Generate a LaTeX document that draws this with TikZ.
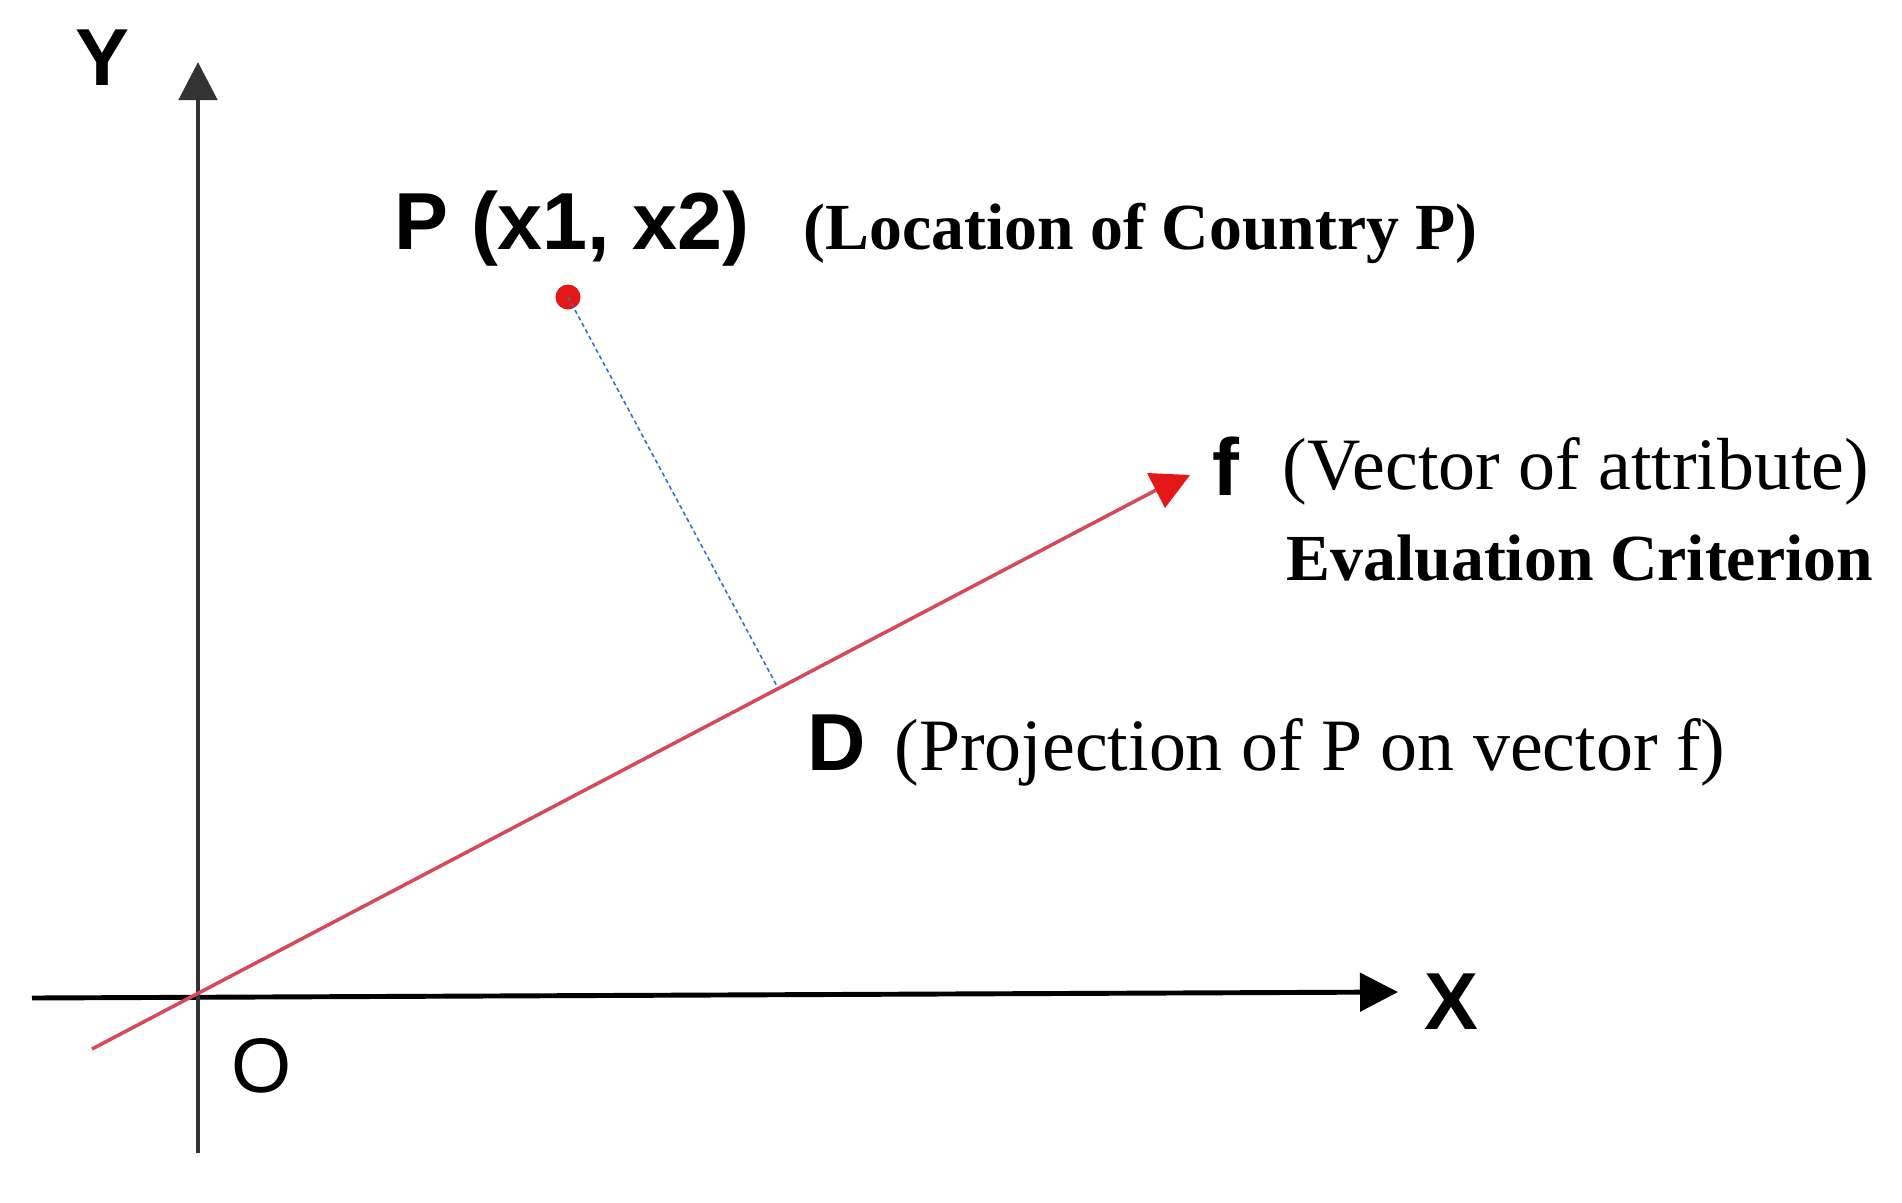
\documentclass[tikz,border=0pt]{standalone}
\usepackage{fontspec}
\usepackage{tikz}
\usetikzlibrary{arrows.meta}
\newfontfamily\arialfont{Liberation Sans}
\newfontfamily\timesfont{Liberation Serif}
\definecolor{fred}{RGB}{214,72,92}
\definecolor{tipred}{RGB}{228,24,24}
\definecolor{projblue}{RGB}{45,110,215}

\begin{document}
\begin{tikzpicture}[x=0.01cm,y=-0.01cm,
		axis/.style={line width=1.4pt,-{Triangle[length=0.38cm,width=0.38cm]}},
		biglab/.style={font={\arialfont\bfseries\fontsize{23}{27}\selectfont}},
		note/.style={font={\timesfont\fontsize{21}{25}\selectfont},anchor=base west,inner sep=0pt},
		boldnote/.style={font={\timesfont\bfseries\fontsize{18.7}{22}\selectfont},anchor=base west,inner sep=0pt}]
			\useasboundingbox (0,0) rectangle (1902,1202);
			%\draw [help lines] (0,0) grid (1902,1202);
			\coordinate (O) at (198,997);
			\coordinate (xs) at (32,998);
			\coordinate (xe) at (1398,992);
			\coordinate (ys) at (198,1153);
			\coordinate (ye) at (198,62);
			\draw[axis] (xs) -- (xe);
			\draw[axis,black!80] (ys) -- (ye);
			\node[biglab] (ylab) at (102,58) {Y};
			\node[biglab] (xlab) at (1451,1002) {X};
			\node[font={\arialfont\fontsize{22}{26}\selectfont}] (olab) at (262,1066) {O};
			% vector f
			\coordinate (fs) at (92,1049);
			\coordinate (fe) at (1160,488);
			\coordinate (D) at (778,688);
			\draw[fred,line width=1pt] (fs) -- (fe);
			\fill[tipred] (1147,473) -- (1190,475) -- (1165,508) -- cycle;
			\node[biglab,anchor=base west,inner sep=0pt] (flab) at (1212,495) {f};
			\node[note] (fvec) at (1282,489) {(Vector of attribute)};
			\node[boldnote] (fcrit) at (1286,580) {Evaluation Criterion};
			% point P and its projection
			\node[circle,fill=tipred,inner sep=0pt,minimum size=0.25cm] (P) at (568,297) {};
			\draw[projblue,line width=0.45pt,dash pattern=on 1.2pt off 0.9pt] (P.center) -- (D);
			\node[biglab,anchor=base west,inner sep=0pt] (plab) at (394,249) {P (x1, x2)};
			\node[boldnote] (ploc) at (803,249) {(Location of Country P)};
			\node[biglab,anchor=base west,inner sep=0pt] (dlab) at (807,770) {D};
			\node[note] (dproj) at (894,770) {(Projection of P on vector f)};
		\end{tikzpicture}
\end{document}
